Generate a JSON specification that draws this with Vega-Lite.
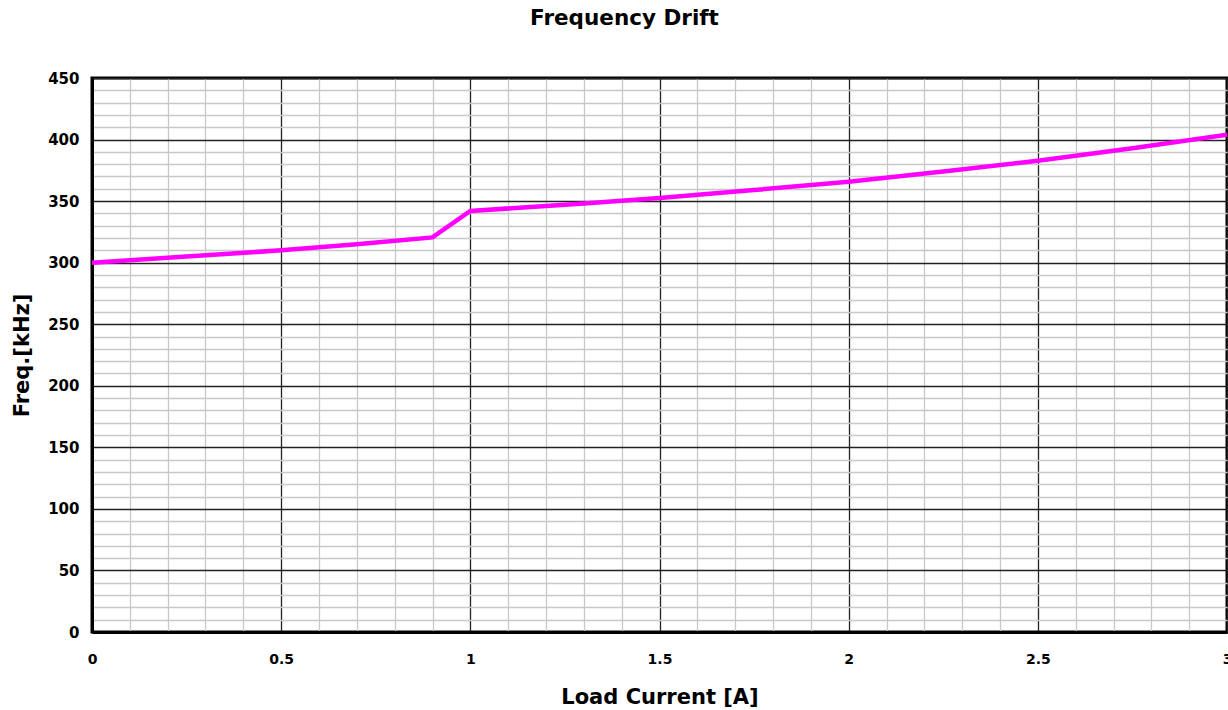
{
  "$schema": "https://vega.github.io/schema/vega-lite/v6.json",
  "width": 1135,
  "height": 554,
  "autosize": {"type": "none"},
  "padding": {"left": 92, "top": 78, "right": 1, "bottom": 78},
  "background": "white",
  "title": {
    "text": "Frequency Drift",
    "font": "DejaVu Sans",
    "fontSize": 21.5,
    "fontWeight": "bold",
    "anchor": "middle",
    "frame": "group",
    "dx": -35,
    "offset": 42,
    "color": "black"
  },
  "config": {
    "view": {"stroke": "black", "strokeWidth": 3},
    "axis": {
      "labelFont": "DejaVu Sans",
      "titleFont": "DejaVu Sans",
      "labelFontWeight": "bold",
      "titleFontWeight": "bold",
      "labelColor": "black",
      "titleColor": "black",
      "domainColor": "black",
      "domainWidth": 3,
      "ticks": false
    }
  },
  "data": {
    "values": [
      {"current": 0, "freq": 300},
      {"current": 0.25, "freq": 305},
      {"current": 0.5, "freq": 310},
      {"current": 0.7, "freq": 315},
      {"current": 0.9, "freq": 320.5},
      {"current": 1.0, "freq": 342},
      {"current": 1.3, "freq": 348},
      {"current": 1.5, "freq": 352.5},
      {"current": 1.75, "freq": 359},
      {"current": 2.0, "freq": 365.8},
      {"current": 2.25, "freq": 374},
      {"current": 2.5, "freq": 382.7},
      {"current": 2.75, "freq": 393},
      {"current": 3.0, "freq": 404}
    ]
  },
  "mark": {"type": "line", "color": "#ff00ff", "strokeWidth": 4.5, "clip": true},
  "encoding": {
    "x": {
      "field": "current",
      "type": "quantitative",
      "scale": {"domain": [0, 3], "nice": false},
      "axis": {
        "title": "Load Current [A]",
        "titleFontSize": 21,
        "titlePadding": 20,
        "labelFontSize": 14,
        "labelPadding": 20,
        "labelFlush": false,
        "format": "~g",
        "values": [0,0.1,0.2,0.3,0.4,0.5,0.6,0.7,0.8,0.9,1,1.1,1.2,1.3,1.4,1.5,1.6,1.7,1.8,1.9,2,2.1,2.2,2.3,2.4,2.5,2.6,2.7,2.8,2.9,3],
        "labelExpr": "abs(datum.value*2 - round(datum.value*2)) < 0.000001 ? datum.label : ''",
        "labelOverlap": false,
        "grid": true,
        "gridColor": {"condition": {"test": "abs(datum.value*2 - round(datum.value*2)) < 0.000001", "value": "#222222"}, "value": "#c8c8c8"},
        "gridWidth": 1.3,
        "gridOpacity": 1
      }
    },
    "y": {
      "field": "freq",
      "type": "quantitative",
      "scale": {"domain": [0, 450], "nice": false},
      "axis": {
        "title": "Freq.[kHz]",
        "titleFontSize": 21,
        "titlePadding": 15,
        "labelFontSize": 15,
        "labelPadding": 13,
        "values": [0,10,20,30,40,50,60,70,80,90,100,110,120,130,140,150,160,170,180,190,200,210,220,230,240,250,260,270,280,290,300,310,320,330,340,350,360,370,380,390,400,410,420,430,440,450],
        "labelExpr": "datum.value % 50 === 0 ? datum.label : ''",
        "labelOverlap": false,
        "grid": true,
        "gridColor": {"condition": {"test": "datum.value % 50 === 0", "value": "#222222"}, "value": "#c8c8c8"},
        "gridWidth": 1.3,
        "gridOpacity": 1
      }
    }
  }
}
